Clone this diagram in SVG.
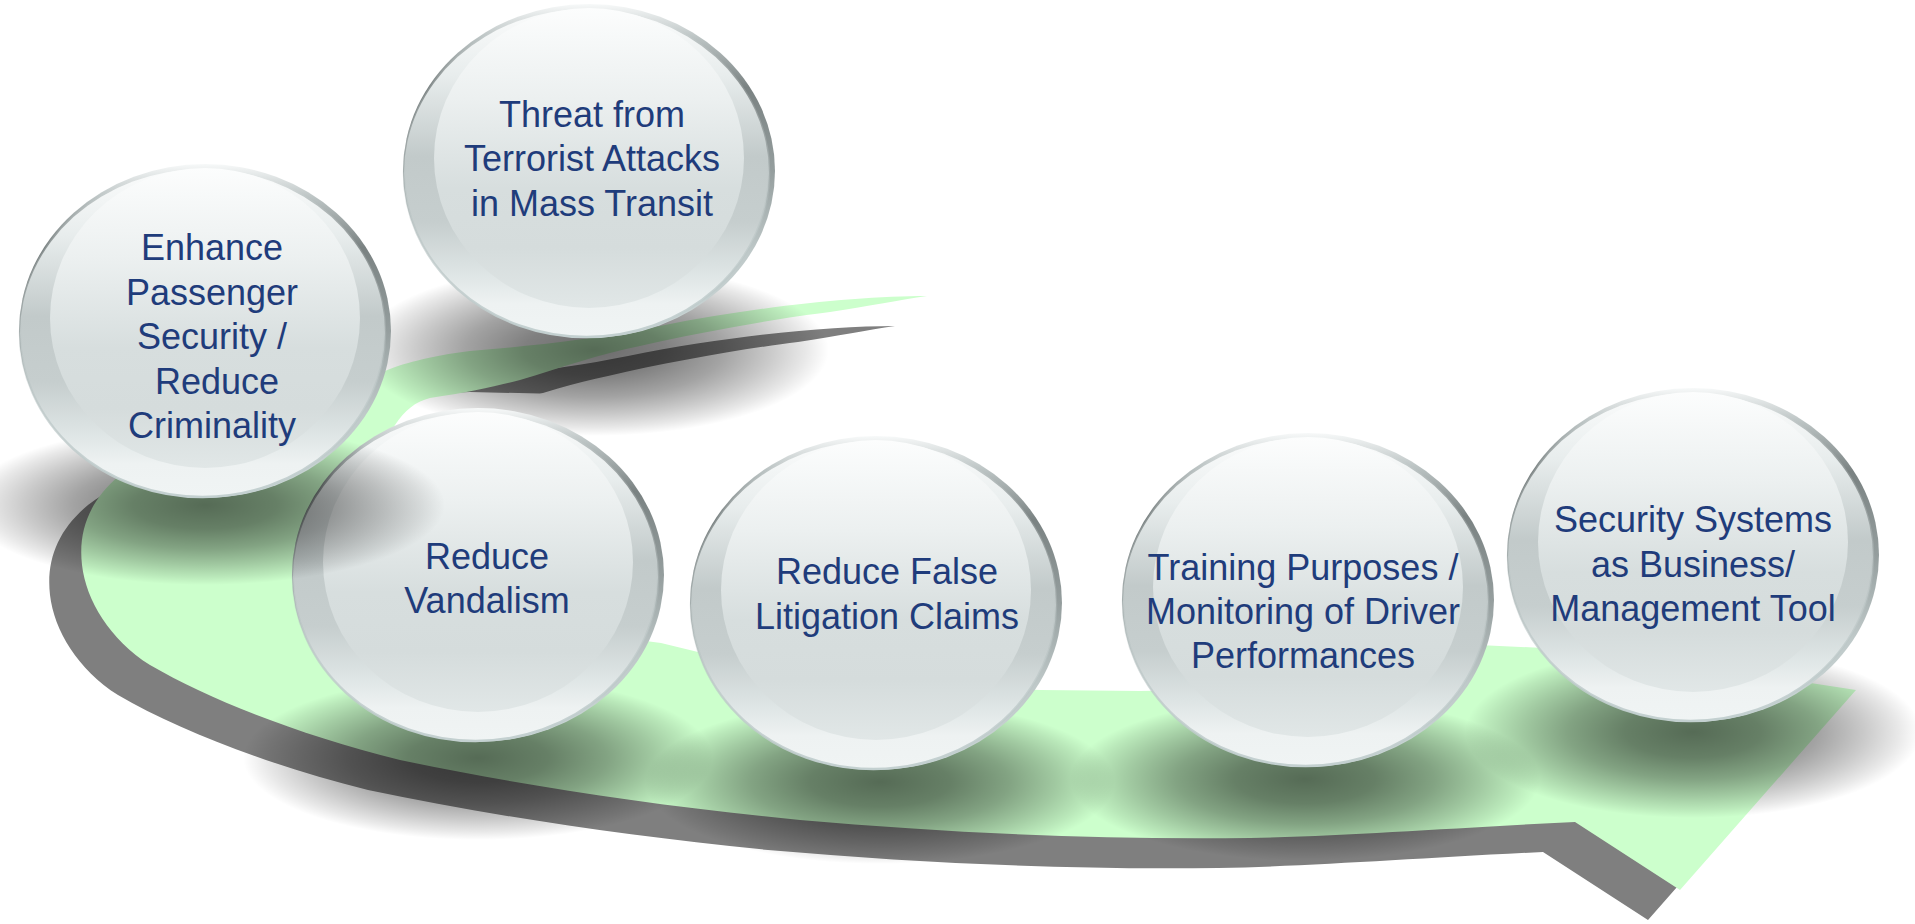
<svg xmlns="http://www.w3.org/2000/svg" xmlns:xlink="http://www.w3.org/1999/xlink" width="1915" height="924" viewBox="0 0 1915 924">
<defs>
<linearGradient id="gRim" x1="0" y1="0" x2="0" y2="1">
<stop offset="0" stop-color="#F7F9F9"/>
<stop offset="0.1" stop-color="#BCC4C4"/>
<stop offset="0.25" stop-color="#7A8282"/>
<stop offset="0.5" stop-color="#959E9E"/>
<stop offset="0.75" stop-color="#BFC9C9"/>
<stop offset="1" stop-color="#CAD6D6"/>
</linearGradient>
<linearGradient id="gBody" x1="0" y1="0" x2="0" y2="1">
<stop offset="0" stop-color="#FBFCFC"/>
<stop offset="0.2" stop-color="#E8EDED"/>
<stop offset="0.45" stop-color="#C2CACA"/>
<stop offset="0.65" stop-color="#C6CECE"/>
<stop offset="0.8" stop-color="#DDE4E4"/>
<stop offset="0.9" stop-color="#EEF2F2"/>
<stop offset="1" stop-color="#F0F4F4"/>
</linearGradient>
<linearGradient id="gEdge" x1="0" y1="0" x2="0" y2="1">
<stop offset="0" stop-color="#FFFFFF" stop-opacity="0"/>
<stop offset="0.55" stop-color="#B5BFBF" stop-opacity="0.4"/>
<stop offset="1" stop-color="#C3D0D0"/>
</linearGradient>
<linearGradient id="gHl" x1="0" y1="0" x2="0" y2="1">
<stop offset="0" stop-color="#FCFDFD"/>
<stop offset="0.3" stop-color="#ECF0F0"/>
<stop offset="0.6" stop-color="#D7DEDE"/>
<stop offset="0.8" stop-color="#D5DCDC"/>
<stop offset="1" stop-color="#E1E7E7"/>
</linearGradient>
<radialGradient id="gShadow" cx="0.5" cy="0.5" r="0.5">
<stop offset="0" stop-color="#000" stop-opacity="0.58"/>
<stop offset="0.3" stop-color="#000" stop-opacity="0.5"/>
<stop offset="0.55" stop-color="#000" stop-opacity="0.36"/>
<stop offset="0.75" stop-color="#000" stop-opacity="0.21"/>
<stop offset="0.9" stop-color="#000" stop-opacity="0.09"/>
<stop offset="1" stop-color="#000" stop-opacity="0"/>
</radialGradient>
<clipPath id="cpDark">
<path clip-rule="evenodd" d="M-100,-100H2100V1100H-100Z M340,470 L345,398 L470,392 L560,394 L600,460 Z"/>
</clipPath>
<path id="ribbon" d="M927,296 C860,296 760,306 660,326 C590,340 530,346 470,351 C430,356 400,364 383,372 C300,395 180,430 120,475 C90,500 78,530 82,565 C86,600 110,640 150,665 C210,700 300,735 400,760 C520,785 650,805 800,820 C950,833 1100,840 1250,838 C1350,836 1450,828 1575,822 L1680,890 L1856,690 L1830,686 C1720,668 1600,650 1543,648 L1457,644 C1380,650 1250,690 1140,691 L1040,690 C900,683 760,662 698,652 L661,643 C560,630 440,610 400,560 C370,520 372,460 395,425 C405,410 415,402 430,398 C470,392 500,385 520,380 C560,368 600,354 640,346 C700,332 780,318 830,312 C870,306 900,300 927,296 Z"/>
</defs>
<style>
.shadow{fill:url(#gShadow)}
.rim{fill:url(#gRim)}
.body{fill:url(#gBody);stroke:url(#gEdge);stroke-width:2.5}
.hl{fill:url(#gHl)}
.t{font-family:"Liberation Sans",Arial,sans-serif;font-size:36px;fill:#1F3C7B;text-anchor:middle}
</style>
<rect width="1915" height="924" fill="#FFFFFF"/>

<g id="connectors">
<g clip-path="url(#cpDark)">
<use xlink:href="#ribbon" href="#ribbon" transform="translate(-32,30)" fill="#7F7F7F"/>
</g>
<use xlink:href="#ribbon" href="#ribbon" fill="#CCFFCC"/>
</g>

<g id="node-threat">
<ellipse class="shadow" cx="594" cy="350" rx="235" ry="86"/>
<ellipse class="rim" cx="589" cy="171" rx="186" ry="167"/>
<ellipse class="body" cx="586.5" cy="173" rx="182.5" ry="164"/>
<ellipse class="hl" cx="589" cy="158" rx="155" ry="150"/>
<text class="t" x="592" y="127">Threat from</text>
<text class="t" x="592" y="171">Terrorist Attacks</text>
<text class="t" x="592" y="216">in Mass Transit</text>
</g>

<g id="node-vandalism">
<ellipse class="shadow" cx="478" cy="758" rx="235" ry="82"/>
<ellipse class="rim" cx="478" cy="575" rx="186" ry="167"/>
<ellipse class="body" cx="475.5" cy="577" rx="182.5" ry="164"/>
<ellipse class="hl" cx="478" cy="562" rx="155" ry="150"/>
<text class="t" x="487" y="569">Reduce</text>
<text class="t" x="487" y="613">Vandalism</text>
</g>

<g id="node-enhance">
<ellipse class="shadow" cx="205" cy="505" rx="240" ry="80"/>
<ellipse class="rim" cx="205" cy="331" rx="186" ry="167"/>
<ellipse class="body" cx="202.5" cy="333" rx="182.5" ry="164"/>
<ellipse class="hl" cx="205" cy="318" rx="155" ry="150"/>
<text class="t" x="212" y="260">Enhance</text>
<text class="t" x="212" y="305">Passenger</text>
<text class="t" x="212" y="349">Security /</text>
<text class="t" x="217" y="394">Reduce</text>
<text class="t" x="212" y="438">Criminality</text>
</g>

<g id="node-litigation">
<ellipse class="shadow" cx="880" cy="782" rx="235" ry="82"/>
<ellipse class="rim" cx="876" cy="603" rx="186" ry="167"/>
<ellipse class="body" cx="873.5" cy="605" rx="182.5" ry="164"/>
<ellipse class="hl" cx="876" cy="590" rx="155" ry="150"/>
<text class="t" x="887" y="584">Reduce False</text>
<text class="t" x="887" y="629">Litigation Claims</text>
</g>

<g id="node-training">
<ellipse class="shadow" cx="1305" cy="779" rx="235" ry="82"/>
<ellipse class="rim" cx="1308" cy="600" rx="186" ry="167"/>
<ellipse class="body" cx="1305.5" cy="602" rx="182.5" ry="164"/>
<ellipse class="hl" cx="1308" cy="587" rx="155" ry="150"/>
<text class="t" x="1303" y="580">Training Purposes /</text>
<text class="t" x="1303" y="624">Monitoring of Driver</text>
<text class="t" x="1303" y="668">Performances</text>
</g>

<g id="node-security">
<ellipse class="shadow" cx="1693" cy="732" rx="228" ry="86"/>
<ellipse class="rim" cx="1693" cy="555" rx="186" ry="167"/>
<ellipse class="body" cx="1690.5" cy="557" rx="182.5" ry="164"/>
<ellipse class="hl" cx="1693" cy="542" rx="155" ry="150"/>
<text class="t" x="1693" y="532">Security Systems</text>
<text class="t" x="1693" y="577">as Business/</text>
<text class="t" x="1693" y="621">Management Tool</text>
</g>
</svg>
